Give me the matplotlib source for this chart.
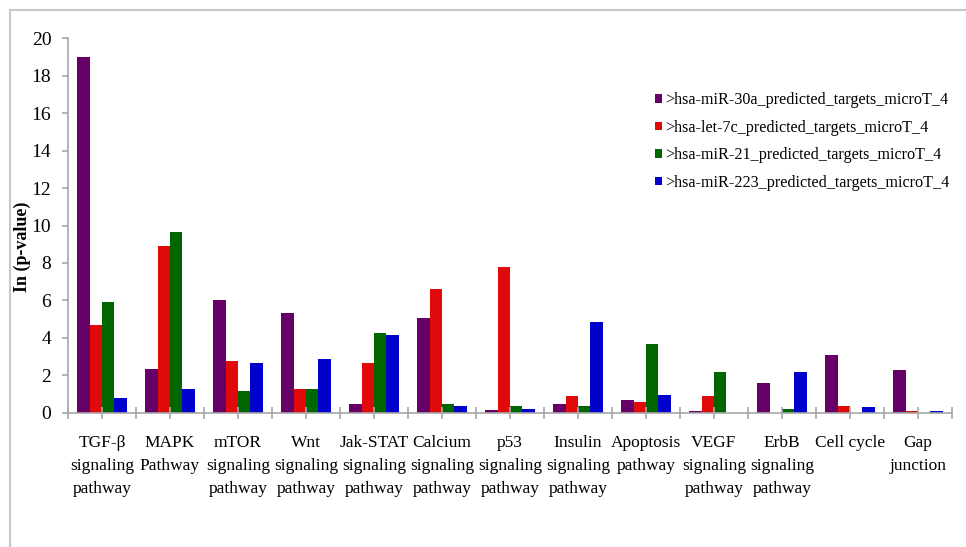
"""
Grouped bar chart of pathway enrichment, ln(p-value), for four miRNA target sets.
"""

import numpy as np
import matplotlib
matplotlib.use('Agg')
import matplotlib.pyplot as plt
from matplotlib.lines import Line2D

# Data
pathways = [
    'TGF-β\nsignaling\npathway', 'MAPK\nPathway', 'mTOR\nsignaling\npathway',
    'Wnt\nsignaling\npathway', 'Jak-STAT\nsignaling\npathway',
    'Calcium\nsignaling\npathway', 'p53\nsignaling\npathway',
    'Insulin\nsignaling\npathway', 'Apoptosis\npathway',
    'VEGF\nsignaling\npathway', 'ErbB\nsignaling\npathway', 'Cell cycle',
    'Gap\njunction',
]
series_names = [
    '>hsa-miR-30a_predicted_targets_microT_4',
    '>hsa-let-7c_predicted_targets_microT_4',
    '>hsa-miR-21_predicted_targets_microT_4',
    '>hsa-miR-223_predicted_targets_microT_4',
]
mir_30a = [19.0, 2.35, 6.0, 5.35, 0.47, 5.08, 0.18, 0.48, 0.71, 0.12, 1.6, 3.1, 2.28]
let_7c = [4.67, 8.9, 2.77, 1.28, 2.67, 6.59, 7.77, 0.89, 0.61, 0.89, 0.0, 0.39, 0.13]
mir_21 = [5.9, 9.67, 1.17, 1.28, 4.27, 0.46, 0.39, 0.39, 3.68, 2.19, 0.21, 0.0, 0.0]
mir_223 = [0.78, 1.28, 2.67, 2.86, 4.16, 0.35, 0.2, 4.87, 0.98, 0.0, 2.19, 0.3, 0.12]
colors = ['#660066', '#e00a0a', '#006600', '#0000cc']

plt.rcParams['font.family'] = ['Liberation Serif', 'DejaVu Serif']

fig = plt.figure(figsize=(9.66, 5.47), dpi=100)
ax = fig.add_axes([0.0704, 0.245, 0.915, 0.6855])

x = np.arange(len(pathways))
width = 0.181
all_series = [mir_30a, let_7c, mir_21, mir_223]
for i, (vals, name) in enumerate(zip(all_series, series_names)):
    offset = (i - 1.5) * width
    ax.bar(x + offset, vals, width, color=colors[i], label=name, linewidth=0)

ax.set_xlim(-0.5, len(pathways) - 0.5)
ax.set_ylim(0, 20)
ax.set_yticks(np.arange(0, 21, 2))

# group boundaries as major ticks, labels on minor ticks at centers
ax.set_xticks(np.arange(-0.5, len(pathways), 1.0))
ax.set_xticklabels([])
ax.set_xticks(x, minor=True)
ax.set_xticklabels(pathways, minor=True, fontsize=12.5, linespacing=1.6,
                   va='top')

axis_gray = '#a8a8a8'
for side in ['top', 'right']:
    ax.spines[side].set_visible(False)
for side in ['left', 'bottom']:
    ax.spines[side].set_color(axis_gray)
    ax.spines[side].set_linewidth(1.2)

ax.tick_params(axis='x', which='both', direction='inout', length=9,
               color=axis_gray, width=1.2, pad=11)
ax.tick_params(axis='y', direction='out', length=4, color=axis_gray,
               width=1.2, labelsize=14, pad=8)

fig.text(22 / 966, 1 - 247 / 547, 'In (p-value)', rotation=90,
         fontsize=13, fontweight='bold', ha='center', va='center')

ax.legend(loc='upper left', bbox_to_anchor=(655 / 966, 1 - 92 / 547),
          bbox_transform=fig.transFigure, frameon=False, fontsize=11.6,
          handlelength=0.45, handleheight=0.45, handletextpad=0.2,
          labelspacing=0.72, borderpad=0, borderaxespad=0)

# light gray frame lines at top and left of the picture
border = '#c8c8c8'
fig.add_artist(Line2D([10 / 966, 1], [1 - 10 / 547, 1 - 10 / 547],
                      transform=fig.transFigure, color=border, lw=1.5))
fig.add_artist(Line2D([10 / 966, 10 / 966], [0, 1 - 10 / 547],
                      transform=fig.transFigure, color=border, lw=1.5))

fig.savefig('out.png', dpi=100)
